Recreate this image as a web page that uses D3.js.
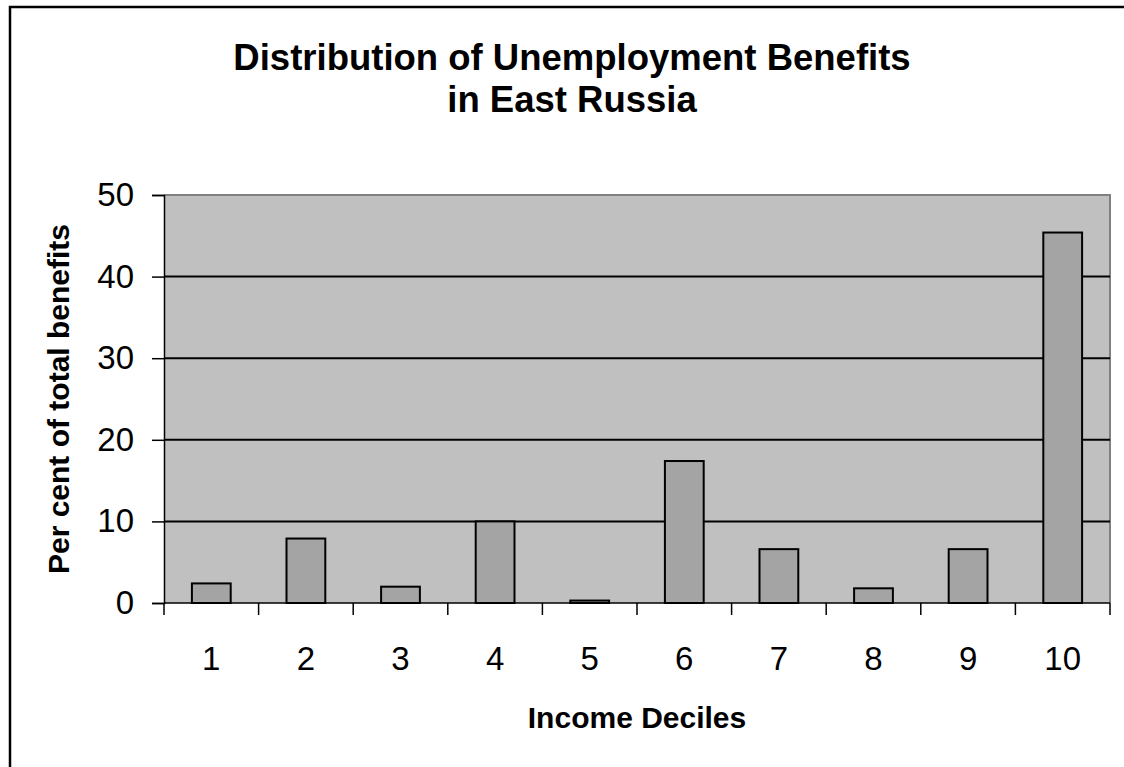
<!DOCTYPE html>
<html>
<head>
<meta charset="utf-8">
<script src="https://cdnjs.cloudflare.com/ajax/libs/d3/7.8.5/d3.min.js"></script>
<style>
  html, body { margin: 0; padding: 0; background: #ffffff; }
  svg { display: block; }
  text { font-family: "Liberation Sans", Arial, sans-serif; fill: #000; }
</style>
</head>
<body>
<svg id="chart" width="1124" height="767"></svg>
<script>
// Share of total unemployment benefits received by each income decile
const deciles = ["1", "2", "3", "4", "5", "6", "7", "8", "9", "10"];
const benefitShare = [2.4, 7.9, 2.0, 10.0, 0.3, 17.4, 6.6, 1.8, 6.6, 45.4];
const yTicks = [0, 10, 20, 30, 40, 50];
const titleLines = ["Distribution of Unemployment Benefits", "in East Russia"];
const xTitle = "Income Deciles";
const yTitle = "Per cent of total benefits";

const svg = d3.select("#chart");
const plot = { left: 164, right: 1110, top: 195, bottom: 603 };

// outer chart frame (extends past the right and bottom edges)
svg.append("rect")
  .attr("x", 10).attr("y", 7)
  .attr("width", 1140).attr("height", 800)
  .attr("fill", "#fff").attr("stroke", "#000").attr("stroke-width", 2.5);

// title
svg.append("text")
  .attr("x", 572).attr("y", 70)
  .attr("text-anchor", "middle")
  .style("font-size", "36.5px").style("font-weight", "bold")
  .selectAll("tspan").data(titleLines).join("tspan")
  .attr("x", 572)
  .attr("dy", (d, i) => i === 0 ? 0 : 42)
  .text(d => d);

const x = d3.scaleBand().domain(deciles).range([plot.left, plot.right]).padding(0);
const xBar = d3.scaleBand().domain(deciles).range([plot.left, plot.right])
  .paddingInner(0.59).paddingOuter(0.295);
const y = d3.scaleLinear().domain([0, 50]).range([plot.bottom, plot.top]);

// plot background
svg.append("rect")
  .attr("x", plot.left).attr("y", plot.top)
  .attr("width", plot.right - plot.left).attr("height", plot.bottom - plot.top)
  .attr("fill", "#c0c0c0");

// top and right plot border
svg.append("path")
  .attr("d", `M${plot.left},${plot.top}H${plot.right}V${plot.bottom}`)
  .attr("fill", "none").attr("stroke", "#808080").attr("stroke-width", 2);

// horizontal gridlines
svg.append("g").selectAll("line")
  .data(yTicks.filter(t => t > 0 && t < 50)).join("line")
  .attr("x1", plot.left).attr("x2", plot.right)
  .attr("y1", d => y(d)).attr("y2", d => y(d))
  .attr("stroke", "#000").attr("stroke-width", 2);

// bars
svg.append("g").selectAll("rect")
  .data(benefitShare).join("rect")
  .attr("x", (d, i) => xBar(deciles[i]))
  .attr("width", xBar.bandwidth())
  .attr("y", d => y(d))
  .attr("height", d => y(0) - y(d))
  .attr("fill", "#a4a4a4")
  .attr("stroke", "#000").attr("stroke-width", 2);

// y axis
const yAxis = svg.append("g")
  .attr("transform", `translate(${plot.left},0)`)
  .call(d3.axisLeft(y).tickValues(yTicks).tickSize(12).tickPadding(18).tickFormat(d3.format("d")));
yAxis.select(".domain").attr("stroke", "#000").attr("stroke-width", 1.5);
yAxis.selectAll(".tick line").attr("stroke", "#000").attr("stroke-width", 1.5);
yAxis.selectAll(".tick text")
  .style("font-size", "33px").style("font-family", "'Liberation Sans', Arial, sans-serif")
  .attr("fill", "#000");

// x axis: ticks sit on the category boundaries
const boundaries = deciles.map(d => x(d)).concat([plot.right]);
const xAxis = svg.append("g");
xAxis.append("line")
  .attr("x1", plot.left).attr("x2", plot.right)
  .attr("y1", plot.bottom).attr("y2", plot.bottom)
  .attr("stroke", "#000").attr("stroke-width", 1.5);
xAxis.selectAll("line.tick").data(boundaries).join("line")
  .attr("class", "tick")
  .attr("x1", d => d).attr("x2", d => d)
  .attr("y1", plot.bottom).attr("y2", plot.bottom + 12)
  .attr("stroke", "#000").attr("stroke-width", 1.5);
xAxis.selectAll("text").data(deciles).join("text")
  .attr("x", d => x(d) + x.bandwidth() / 2)
  .attr("y", 670)
  .attr("text-anchor", "middle")
  .style("font-size", "33px")
  .text(d => d);

// axis titles
svg.append("text")
  .attr("x", (plot.left + plot.right) / 2).attr("y", 728)
  .attr("text-anchor", "middle")
  .style("font-size", "30px").style("font-weight", "bold")
  .text(xTitle);

svg.append("text")
  .attr("transform", `translate(69,${(plot.top + plot.bottom) / 2}) rotate(-90)`)
  .attr("text-anchor", "middle")
  .style("font-size", "30px").style("font-weight", "bold")
  .text(yTitle);
</script>
</body>
</html>
